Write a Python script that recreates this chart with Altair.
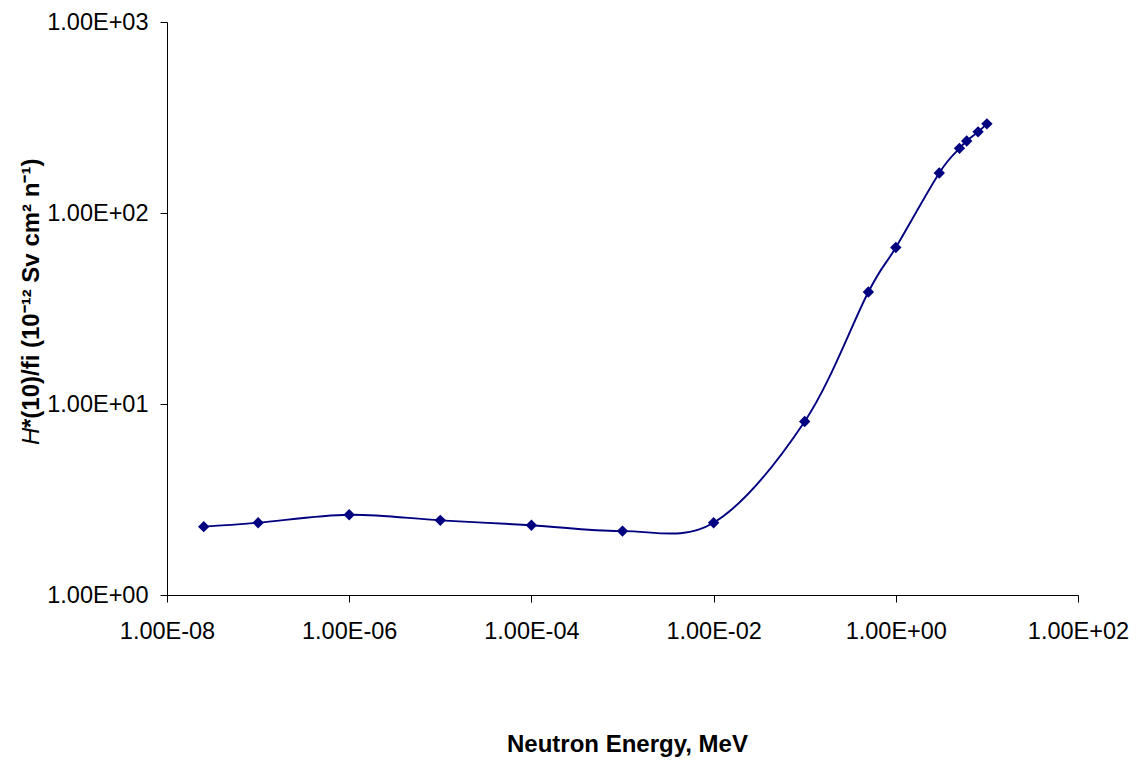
import altair as alt
import pandas as pd

# Data
energy_mev = [2.53e-8, 1e-7, 1e-6, 1e-5, 1e-4, 1e-3, 1e-2, 1e-1, 0.5, 1.0, 3.0, 5.0, 6.0, 8.0, 10.0]
h10_per_fluence = [2.28, 2.39, 2.63, 2.46, 2.32, 2.16, 2.39, 8.1, 38.6, 66.0, 162.0, 218.0, 238.0, 266.0, 293.0]

x_ticks = [1e-8, 1e-6, 1e-4, 1e-2, 1e0, 1e2]
y_ticks = [1, 10, 100, 1000]

x_title = "Neutron Energy, MeV"
y_title_italic = ["H"]
y_title_rest = ["*(10)/fi (10⁻¹² Sv cm² n⁻¹)"]

FONT = "Liberation Sans"
NAVY = "#000080"

df = pd.DataFrame({"energy": energy_mev, "h": h10_per_fluence})

label_expr = (
    "'1.00E' + (round(log(datum.value)/LN10) < 0 ? '-' : '+') + "
    "(abs(round(log(datum.value)/LN10)) < 10 ? '0' : '') + abs(round(log(datum.value)/LN10))"
)

x_enc = alt.X(
    "energy:Q",
    scale=alt.Scale(type="log", domain=[1e-8, 1e2], nice=False),
    axis=alt.Axis(
        values=x_ticks, labelExpr=label_expr, title=x_title, grid=False,
        tickSize=7, labelPadding=17, titlePadding=90,
        labelFont=FONT, labelFontSize=23.5, labelColor="black",
        titleFont=FONT, titleFontSize=24, titleFontWeight="bold", titleColor="black",
        titleX=460,
        domainColor="black", tickColor="black", labelFlush=False, labelOverlap=False,
    ),
)
y_enc = alt.Y(
    "h:Q",
    scale=alt.Scale(type="log", domain=[1, 1000], nice=False),
    axis=alt.Axis(
        values=y_ticks, labelExpr=label_expr, title=None, grid=False,
        tickSize=7, labelPadding=12,
        labelFont=FONT, labelFontSize=23.5, labelColor="black",
        domainColor="black", tickColor="black", labelFlush=False, labelOverlap=False,
    ),
)

base = alt.Chart(df).encode(x=x_enc, y=y_enc)
line = base.mark_line(color=NAVY, strokeWidth=1.9, interpolate="cardinal", tension=0)
pts = base.mark_point(shape="diamond", filled=True, color=NAVY, size=130, opacity=1)

t1 = alt.Chart(pd.DataFrame({"t": y_title_italic})).mark_text(
    font=FONT, fontSize=24, fontStyle="italic", angle=270, align="left",
    baseline="alphabetic", color="black",
).encode(text="t:N", x=alt.value(-128), y=alt.value(423))
t2 = alt.Chart(pd.DataFrame({"t": y_title_rest})).mark_text(
    font=FONT, fontSize=24, fontWeight="bold", angle=270, align="left",
    baseline="alphabetic", color="black",
).encode(text="t:N", x=alt.value(-128), y=alt.value(406))

chart = alt.layer(line, pts, t1, t2).properties(
    width=911, height=573,
    autosize=alt.AutoSizeParams(type="none"),
    padding={"left": 159, "top": 14, "right": 56, "bottom": 162},
).configure(background="white").configure_view(stroke=None)

chart.save("out.html", embed_options={"renderer": "svg", "actions": False})
